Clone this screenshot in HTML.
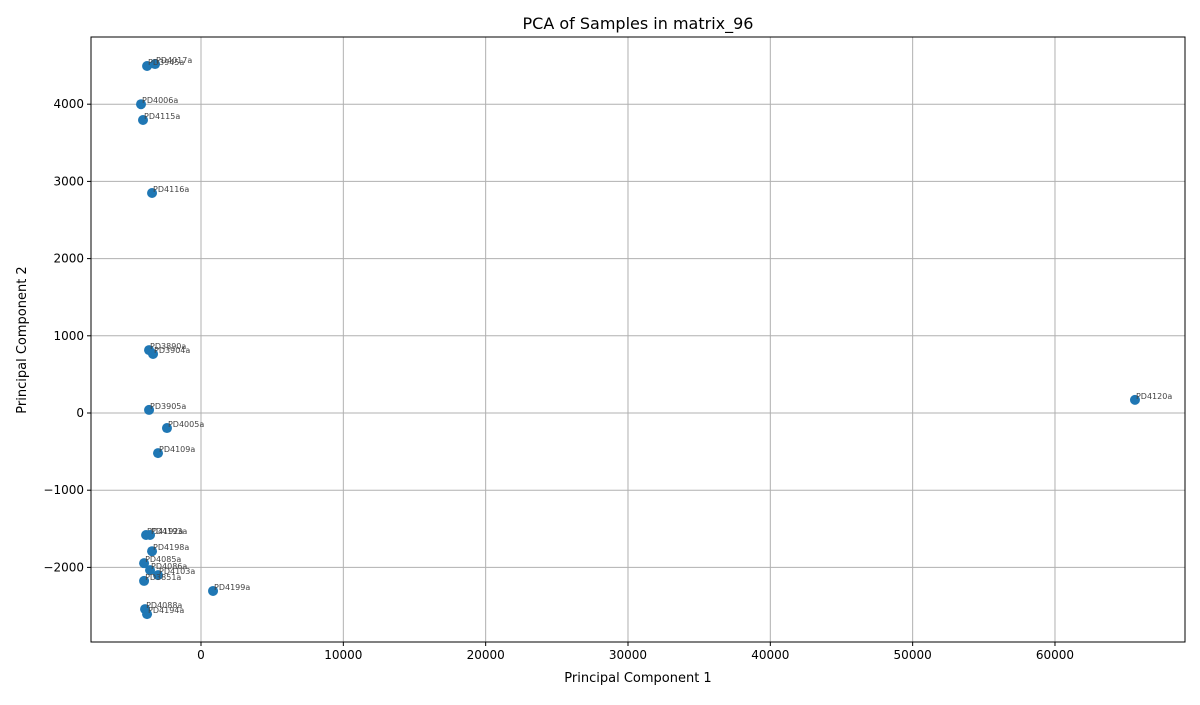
<!DOCTYPE html>
<html><head><meta charset="utf-8"><style>
body{margin:0;background:#fff;font-family:"Liberation Sans","DejaVu Sans",sans-serif}
</style></head><body>
<svg id="chart" width="1200" height="700" xmlns="http://www.w3.org/2000/svg" font-family="DejaVu Sans, Liberation Sans, sans-serif"></svg>
<script>
const labels=["PD4017a","PD3945a","PD4006a","PD4115a","PD4116a","PD3890a","PD3904a","PD3905a","PD4005a","PD4109a","PD4120a","PD4192a","PD4193a","PD4198a","PD4085a","PD4086a","PD4103a","PD3851a","PD4199a","PD4088a","PD4194a"];
const pc1=[-3230,-3790,-4215,-4075,-3440,-3650,-3370,-3650,-2390,-3020,65620,-3860,-3580,-3440,-4000,-3580,-3020,-4000,845,-3930,-3790];
const pc2=[4520,4495,4000,3795,2850,815,765,40,-195,-520,170,-1580,-1580,-1790,-1945,-2035,-2100,-2175,-2305,-2540,-2605];
const xTicks=[0,10000,20000,30000,40000,50000,60000];
const yTicks=[-2000,-1000,0,1000,2000,3000,4000];
const L=91,R=1185,T=37,B=642;
const xs=v=>201+v*0.014233;
const ys=v=>413-v*0.0772;
const svg=document.getElementById('chart');const NS="http://www.w3.org/2000/svg";
function el(t,a,p){const e=document.createElementNS(NS,t);for(const k in a)e.setAttribute(k,a[k]);(p||svg).appendChild(e);return e;}
const grid=el('g',{});


xTicks.forEach(v=>{const x=xs(v);
 el('line',{x1:x,x2:x,y1:T,y2:B,stroke:'#b0b0b0','stroke-width':1},grid);
 el('line',{x1:x,x2:x,y1:B,y2:B+4,stroke:'#000'});
 const t=el('text',{x:x,y:B+17,'text-anchor':'middle','font-size':12});t.textContent=v;
 
 });
yTicks.forEach(v=>{const y=ys(v);
 el('line',{x1:L,x2:R,y1:y,y2:y,stroke:'#b0b0b0','stroke-width':1},grid);
 el('line',{x1:L-4,x2:L,y1:y,y2:y,stroke:'#000'});
 const t=el('text',{x:L-7,y:y+4,'text-anchor':'end','font-size':12});t.textContent=(v<0?'\u2212'+(-v):v);
 
 });
const pts=el('g',{});


labels.forEach((lab,i)=>{const x=xs(pc1[i]),y=ys(pc2[i]);
 const c=el('circle',{cx:x,cy:y,r:5,fill:'#1f77b4'},pts);
 
 
 const t=el('text',{x:x+1,y:y-1,'font-size':8,fill:'#444'},pts);t.textContent=lab;
 
 });
const fr=el('rect',{x:L,y:T,width:R-L,height:B-T,fill:'none',stroke:'#000','stroke-width':1});


let t=el('text',{x:638,y:29,'text-anchor':'middle','font-size':16});t.textContent='PCA of Samples in matrix_96';


t=el('text',{x:638,y:682,'text-anchor':'middle','font-size':13});t.textContent='Principal Component 1';


t=el('text',{x:26,y:340,'text-anchor':'middle','font-size':13,transform:'rotate(-90 26 340)'});t.textContent='Principal Component 2';


</script>
</body></html>
